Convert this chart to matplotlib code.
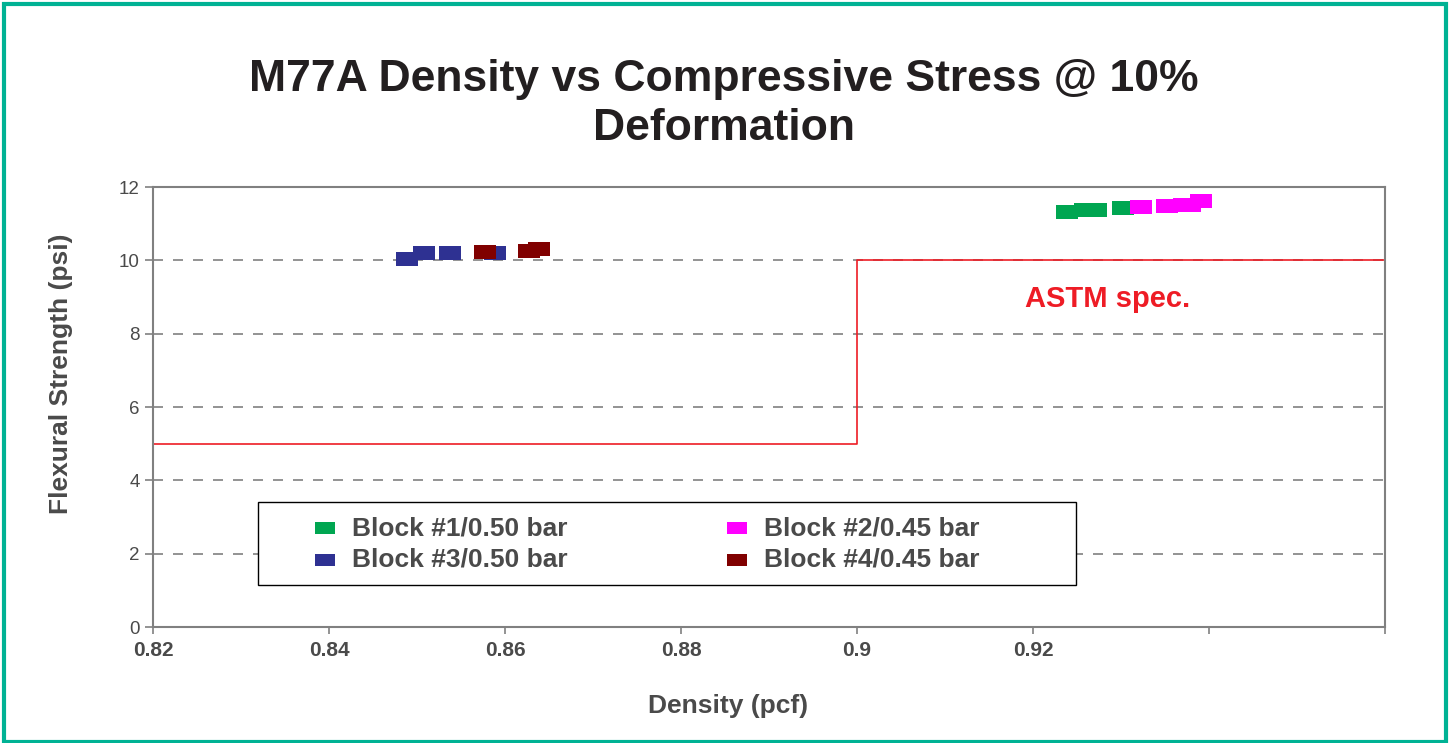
import matplotlib.pyplot as plt
from matplotlib.patches import Rectangle

plt.rcParams['font.family'] = ['Liberation Sans', 'DejaVu Sans']

# data
b1_x = [0.9239, 0.9259, 0.9271, 0.9302]
b1_y = [11.32, 11.37, 11.38, 11.43]
b2_x = [0.9323, 0.9352, 0.9372, 0.9378, 0.9391]
b2_y = [11.46, 11.49, 11.52, 11.52, 11.62]
b3_x = [0.8489, 0.8508, 0.8538, 0.8589]
b3_y = [10.05, 10.21, 10.19, 10.21]
b4_x = [0.8577, 0.8627, 0.8639]
b4_y = [10.22, 10.26, 10.30]
spec_x = [0.82, 0.90, 0.90, 0.96]
spec_y = [5, 5, 10, 10]

xticks = [0.82, 0.84, 0.86, 0.88, 0.90, 0.92, 0.94, 0.96]
xticklabels = ['0.82', '0.84', '0.86', '0.88', '0.9', '0.92', '', '']
yticks = [0, 2, 4, 6, 8, 10, 12]

txt = '#4a4a4a'
rect = [(-1.1, -0.7), (1.1, -0.7), (1.1, 0.7), (-1.1, 0.7), (-1.1, -0.7)]

fig = plt.figure(figsize=(14.5, 7.43), dpi=100)
ax = fig.add_axes([0.1055, 0.1561, 0.8497, 0.5922])

ax.plot(spec_x, spec_y, color='#ee1c25', lw=1.2, zorder=2)
h1 = ax.scatter(b1_x, b1_y, marker=rect, s=16**2, color='#00a651', lw=0, label='Block #1/0.50 bar', zorder=3)
h2 = ax.scatter(b2_x, b2_y, marker=rect, s=16**2, color='#ff00ff', lw=0, label='Block #2/0.45 bar', zorder=3)
h3 = ax.scatter(b3_x, b3_y, marker=rect, s=16**2, color='#2e3192', lw=0, label='Block #3/0.50 bar', zorder=3)
h4 = ax.scatter(b4_x, b4_y, marker=rect, s=16**2, color='#800000', lw=0, label='Block #4/0.45 bar', zorder=4)

ax.set_xlim(0.82, 0.96)
ax.set_ylim(0, 12)
ax.set_xticks(xticks)
ax.set_xticklabels(xticklabels, fontsize=15, fontweight='bold', color=txt)
ax.set_yticks(yticks)
ax.tick_params(axis='y', labelsize=13.5, labelcolor=txt, color='#808080', length=6, width=1.2)
ax.tick_params(axis='x', color='#808080', length=5, width=1.2, pad=5)
for t in ax.get_xticklines()[-4:]:
    t.set_color('#29abe2')
for y in [2, 4, 6, 8, 10]:
    ax.axhline(y, color='#808080', lw=1.2, ls=(0, (6, 6)), zorder=1)
for s in ax.spines.values():
    s.set_color('#808080')
    s.set_linewidth(1.5)

fig.text(728 / 1450, 1 - 706 / 743, 'Density (pcf)', fontsize=19, fontweight='bold', color=txt,
         ha='center', va='center')
fig.text(61 / 1450, 1 - 374 / 743, 'Flexural Strength (psi)', fontsize=19, fontweight='bold', color=txt,
         ha='center', va='center', rotation=90)
ax.text(0.9285, 8.95, 'ASTM spec.', color='#ee1c25', fontsize=21, fontweight='bold', ha='center', va='center')

fig.text(724 / 1450, 1 - 104 / 743, 'M77A Density vs Compressive Stress @ 10%\nDeformation',
         fontsize=32, fontweight='bold', color='#231f20', ha='center', va='center', linespacing=1.25)

leg = ax.legend([h1, h3, h2, h4], [h.get_label() for h in (h1, h3, h2, h4)],
                loc='center left', bbox_to_anchor=(312 / 1450, 1 - 544 / 743),
                bbox_transform=fig.transFigure, ncol=2, frameon=False, borderpad=0, borderaxespad=0,
                prop={'weight': 'bold', 'size': 19}, handlelength=1.0, handletextpad=0.53,
                labelspacing=0.3, columnspacing=5.9, scatterpoints=1, markerscale=0.9)
for t in leg.get_texts():
    t.set_color(txt)

ax.add_artist(Rectangle((258 / 1450, 1 - 585 / 743), 818 / 1450, 83 / 743, transform=fig.transFigure,
                        fill=True, facecolor='white', edgecolor='black', lw=1.0, zorder=5))
leg.set_zorder(6)

fig.patches.append(Rectangle((0.003, 0.002), 0.994, 0.993, transform=fig.transFigure,
                             fill=False, edgecolor='#00b294', lw=3))

fig.savefig('out.png', dpi=100)
